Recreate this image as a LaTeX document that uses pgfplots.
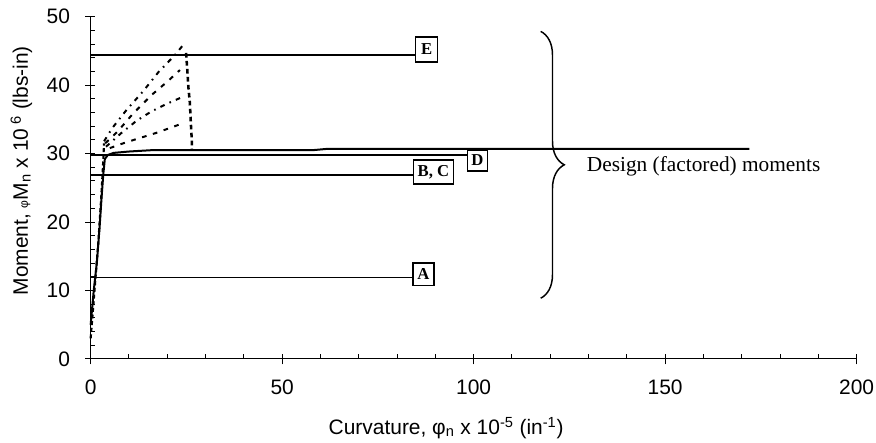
\documentclass[border=0pt]{standalone}
\usepackage{pgfplots}
\pgfplotsset{compat=1.18}
\usepackage{fontspec}
\setmainfont{Liberation Sans}
\newfontfamily\serif{Liberation Serif}
\usetikzlibrary{calc,decorations.pathreplacing}
\begin{document}
\begin{tikzpicture}
\begin{axis}[
  scale only axis, width=574.5pt, height=256.7pt,
  xmin=0, xmax=200, ymin=0, ymax=50,
  axis lines=left, axis line style={-, line width=0.75pt},
  xtick={0,50,100,150,200}, ytick={0,10,20,30,40,50},
  minor x tick num=4, minor y tick num=4,
  tick align=inside, major tick length=7.5pt, minor tick length=3.5pt,
  every major x tick/.append style={yshift=-4pt},
  every major y tick/.append style={xshift=-4pt},
  tick style={black, line width=0.75pt},
  /pgf/number format/assume math mode=true,
  tick label style={font=\fontsize{15.7}{18}\selectfont},
  yticklabel style={xshift=-12pt},
  xticklabel style={yshift=-12pt},
  xlabel={Curvature, φ\textsubscript{n} x 10\textsuperscript{-5} (in\textsuperscript{-1})},
  ylabel={Moment, {\small φ}M\textsubscript{n} x 10\textsuperscript{ 6} (lbs-in)},
  label style={font=\fontsize{15.7}{18}\selectfont},
  xlabel style={at={(rel axis cs:0.464,0)}, anchor=north, yshift=-40pt},
  ylabel style={at={(rel axis cs:0,0.55)}, anchor=center, yshift=52pt},
  clip=false,
]
\coordinate (sw) at (rel axis cs:0,0);
\coordinate (ne) at (rel axis cs:1,1);
% design moment lines
\addplot[black, line width=1.1pt] coordinates {(0,44.4) (84.9,44.4)};
\addplot[black, line width=1.1pt] coordinates {(0,29.8) (98.4,29.8)};
\addplot[black, line width=1.1pt] coordinates {(0,26.9) (84.2,26.9)};
\addplot[black, line width=1.1pt] coordinates {(0,11.9) (84.2,11.9)};
% main moment-curvature curve
\addplot[black, line width=1.5pt] coordinates {
(0,5) (0.8,10) (1.6,14) (2.3,19) (2.9,24) (3.3,27) (3.7,29.2) (4.5,29.8)
(6,30.1) (10,30.3) (16,30.5) (58,30.5) (62,30.7) (172,30.7)};
% dashed rising curve
\addplot[black, line width=1.6pt, dash pattern=on 3pt off 2pt] coordinates {
(0,3) (1,10) (2,17) (2.8,24) (3.2,28) (3.5,31.5)};
% fan curves
\addplot[black, line width=1.5pt, dash pattern=on 3.5pt off 4pt on 1.2pt off 4pt] coordinates {
(3.5,31.8) (5.6,33.7) (9.4,36.4) (13.7,39.1) (17.7,41.9) (22,44.4) (24.2,45.9)};
\addplot[black, line width=1.5pt, dash pattern=on 3.5pt off 5pt] coordinates {
(3.8,31.5) (7,33.2) (11,35.8) (16,38.6) (20,40.5) (23.3,42.2)};
\addplot[black, line width=1.5pt, dash pattern=on 3.5pt off 4pt on 1.2pt off 4pt] coordinates {
(4,31) (8,33) (12,34.8) (16,36.2) (20,37.3) (23.7,38.2)};
\addplot[black, line width=1.5pt, dash pattern=on 3.5pt off 5pt] coordinates {
(5,30.8) (9,31.6) (13,32.3) (17,33) (21,33.8) (24.4,34.5)};
\addplot[black, line width=1.9pt, dash pattern=on 3.5pt off 2.5pt] coordinates {
(24.9,44.7) (25.2,42.5) (25.5,39.8) (25.9,37.4) (26.2,34) (26.4,32) (26.4,30.5)};
% labels boxes
\tikzset{lbl/.style={draw=black, line width=1.1pt, fill=white, inner sep=0pt,
  font=\serif\bfseries\fontsize{12.5}{14}\selectfont}}
\node[lbl, minimum width=16.5pt, minimum height=18.5pt] at (axis cs:87.7,45.2) {E};
\node[lbl, minimum width=15pt, minimum height=15.8pt] at (axis cs:101.0,29.0) {D};
\node[lbl, minimum width=30pt, minimum height=18pt] at (axis cs:89.5,27.3) {B, C};
\node[lbl, minimum width=15.5pt, minimum height=16.8pt] at (axis cs:86.9,12.35) {A};
% brace
\draw[black, line width=1.1pt, decorate, decoration={brace, amplitude=17.7pt}]
  (axis cs:117.5,47.85) -- (axis cs:117.5,8.87);
\node[anchor=west, inner sep=0pt, font=\serif\fontsize{16}{18}\selectfont]
  at (axis cs:129.5,28.1) {Design (factored) moments};
\end{axis}
\pgfresetboundingbox
\path[use as bounding box] ($(sw)+(-68pt,-63pt)$) rectangle ($(ne)+(14.5pt,12.5pt)$);
\end{tikzpicture}
\end{document}
